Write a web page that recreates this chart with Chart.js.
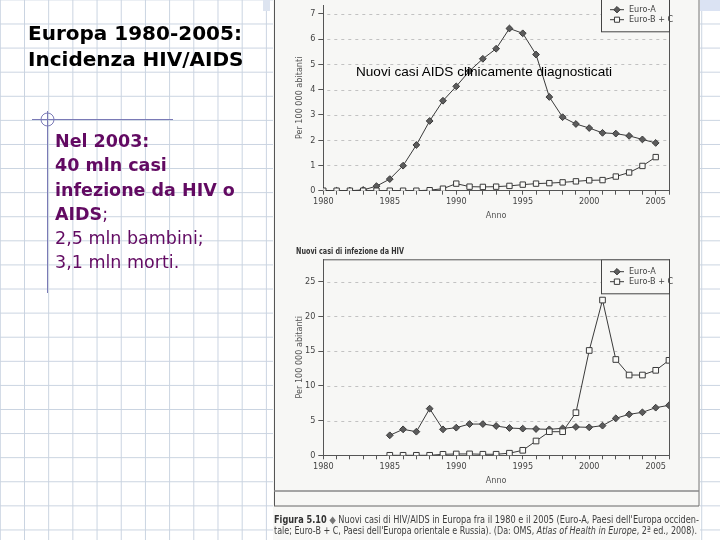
<!DOCTYPE html>
<html><head><meta charset="utf-8">
<script src="https://cdn.jsdelivr.net/npm/chart.js@4.4.1/dist/chart.umd.min.js"></script>
<style>
html,body{margin:0;padding:0;width:720px;height:540px;overflow:hidden;background:#fff;}
#page{position:absolute;left:0;top:0;width:720px;height:540px;background-color:#fff;
 background-image:linear-gradient(to right,#c9d3e0 1px,transparent 1px),linear-gradient(to bottom,#c9d3e0 1px,transparent 1px);
 background-size:24.2px 24.1px;background-position:24px 23.5px;}
#scan{position:absolute;left:273px;top:0;width:427px;height:540px;background:#f7f7f5;}
#band1{position:absolute;left:700px;top:0;width:20px;height:11px;background:#dbe3f3;}
#band2{position:absolute;left:263px;top:0;width:7px;height:11px;background:#dde4f0;}
canvas{position:absolute;}
#c1{left:274px;top:0px;}
#c2{left:274px;top:240px;}
svg{position:absolute;left:0;top:0;}
</style></head>
<body>
<div id="page"></div>
<div id="scan"></div>
<div id="band1"></div><div id="band2"></div>
<canvas id="c1" width="425" height="225"></canvas>
<canvas id="c2" width="425" height="250"></canvas>
<svg width="720" height="540" xmlns="http://www.w3.org/2000/svg">
 <g stroke="#7a7ab6" stroke-width="1" fill="none">
  <line x1="32" y1="119.5" x2="173" y2="119.5"/>
  <line x1="47.5" y1="111" x2="47.5" y2="293"/>
  <circle cx="47.5" cy="119.5" r="6.5"/>
 </g>
 <g font-family="'DejaVu Sans',Verdana,sans-serif" font-weight="bold" font-size="20" fill="#000">
  <text x="28" y="39.5">Europa 1980-2005:</text>
  <text x="28" y="65.5">Incidenza HIV/AIDS</text>
 </g>
 <g font-family="'DejaVu Sans',Verdana,sans-serif" font-size="17.5" fill="#620a62">
  <text x="55" y="147" font-weight="bold">Nel 2003:</text>
  <text x="55" y="171" font-weight="bold">40 mln casi</text>
  <text x="55" y="195.5" font-weight="bold">infezione da HIV o</text>
  <text x="55" y="219.5"><tspan font-weight="bold">AIDS</tspan>;</text>
  <text x="55" y="243.5">2,5 mln bambini;</text>
  <text x="55" y="267.5">3,1 mln morti.</text>
 </g>
 <g stroke-width="1" fill="none">
  <line x1="274.5" y1="0" x2="274.5" y2="506" stroke="#555"/>
  <line x1="699" y1="0" x2="699" y2="506" stroke="#777"/>
  <line x1="274" y1="491" x2="699" y2="491" stroke="#888" stroke-width="1.5"/>
  <line x1="274" y1="506" x2="699" y2="506" stroke="#666"/>
 </g>
 <text x="356" y="76" font-family="'Liberation Sans',Arial,sans-serif" font-size="13.5" fill="#000" textLength="256" lengthAdjust="spacingAndGlyphs">Nuovi casi AIDS clinicamente diagnosticati</text>
 <text x="296" y="254" font-family="'Liberation Sans Narrow','DejaVu Sans Condensed',sans-serif" font-size="9" font-weight="bold" fill="#333" textLength="108" lengthAdjust="spacingAndGlyphs">Nuovi casi di infezione da HIV</text>
 <g font-family="'Liberation Sans Narrow','DejaVu Sans Condensed',sans-serif" font-size="10" fill="#3c3c3c">
  <text x="274" y="522.5" textLength="425" lengthAdjust="spacingAndGlyphs"><tspan font-weight="bold" fill="#333">Figura 5.10</tspan><tspan fill="#777"> ◆ </tspan>Nuovi casi di HIV/AIDS in Europa fra il 1980 e il 2005 (Euro-A, Paesi dell'Europa occiden-</text>
  <text x="274" y="534" textLength="423" lengthAdjust="spacingAndGlyphs">tale; Euro-B + C, Paesi dell'Europa orientale e Russia). (Da: OMS, <tspan font-style="italic">Atlas of Health in Europe</tspan>, 2ª ed., 2008).</text>
 </g>
</svg>
<script>
// ---- data ----
const aidsYears = [1980,1981,1982,1983,1984,1985,1986,1987,1988,1989,1990,1991,1992,1993,1994,1995,1996,1997,1998,1999,2000,2001,2002,2003,2004,2005];
const aidsEuroA = [0,0,0,0.03,0.18,0.46,0.99,1.81,2.76,3.56,4.13,4.74,5.22,5.62,6.42,6.23,5.39,3.71,2.91,2.64,2.48,2.29,2.26,2.17,2.03,1.89];
const aidsEuroBC = [0,0,0,0,0,0,0,0,0.02,0.08,0.28,0.16,0.15,0.16,0.19,0.24,0.28,0.30,0.33,0.37,0.41,0.42,0.56,0.72,0.98,1.33];
const hivYears = [1985,1986,1987,1988,1989,1990,1991,1992,1993,1994,1995,1996,1997,1998,1999,2000,2001,2002,2003,2004,2005,2006];
const hivEuroA = [2.88,3.74,3.40,6.72,3.74,3.98,4.50,4.50,4.22,3.93,3.84,3.79,3.74,3.89,4.08,4.03,4.27,5.33,5.90,6.19,6.86,7.20];
const hivEuroBC = [0,0,0,0,0.14,0.19,0.20,0.15,0.15,0.30,0.72,2.06,3.40,3.40,6.14,15.10,22.36,13.80,11.56,11.56,12.24,13.68];
const seriesLabels = ['Euro-A','Euro-B + C'];
const xTickLabels = [1980,1985,1990,1995,2000,2005];
const aidsYTicks = [0,1,2,3,4,5,6,7];
const hivYTicks = [0,5,10,15,20,25];
const xAxisTitle = 'Anno';
const yAxisTitle = 'Per 100 000 abitanti';

const FONT = "'Liberation Sans Narrow','DejaVu Sans Condensed','Arial Narrow',sans-serif";
const INK = '#3a3a3a';
const PAPER = '#f7f7f5';

function pts(xs, ys){ return xs.map((x,i)=>({x:x, y:ys[i]})); }

function framePlugin(cfg){
  return {
    id:'frameLegend',
    beforeDatasetsDraw(chart){
      const ctx = chart.ctx, a = chart.chartArea, y = chart.scales.y;
      ctx.save();
      ctx.strokeStyle = '#c2c2c2'; ctx.lineWidth = 1; ctx.setLineDash([3,4]);
      y.ticks.forEach(t => {
        if (t.value <= 0) return;
        const py = Math.round(y.getPixelForValue(t.value)) + 0.5;
        ctx.beginPath(); ctx.moveTo(a.left + 4, py); ctx.lineTo(a.right - 2, py); ctx.stroke();
      });
      ctx.setLineDash([]);
      ctx.strokeStyle = '#555';
      ctx.beginPath();
      ctx.moveTo(a.right + 0.5, a.top); ctx.lineTo(a.right + 0.5, a.bottom);
      if (cfg.topFrame) { ctx.moveTo(a.left, a.top + 0.5); ctx.lineTo(a.right + 0.5, a.top + 0.5); }
      ctx.stroke();
      ctx.restore();
    },
    afterDatasetsDraw(chart){
      const ctx = chart.ctx, a = chart.chartArea;
      const L = a.right - 68, T = a.top + cfg.boxTop, B = a.top + cfg.boxBottom;
      ctx.save();
      ctx.fillStyle = PAPER;
      ctx.fillRect(L, T, a.right - L, B - T);
      ctx.strokeStyle = '#444'; ctx.lineWidth = 1;
      ctx.strokeRect(Math.round(L) + 0.5, T + 0.5, a.right - Math.round(L), B - T);
      chart.data.datasets.forEach((ds, i) => {
        const yy = a.top + cfg.itemY[i];
        ctx.strokeStyle = INK; ctx.lineWidth = 1;
        ctx.beginPath(); ctx.moveTo(L + 9, yy); ctx.lineTo(L + 23, yy); ctx.stroke();
        ctx.fillStyle = ds.pointBackgroundColor; ctx.strokeStyle = ds.pointBorderColor;
        Chart.helpers.drawPoint(ctx, {pointStyle: ds.pointStyle, radius: ds.pointRadius - 0.2, rotation: 0, borderWidth: 1}, L + 16, yy);
        ctx.fillStyle = '#444';
        ctx.font = "9px " + FONT;
        ctx.textBaseline = 'middle'; ctx.textAlign = 'left';
        ctx.fillText(ds.label, L + 28, yy);
      });
      ctx.restore();
    }
  };
}

function makeChart(id, years, a, bc, yMax, yTicks, cfg){
  return new Chart(document.getElementById(id), {
    type: 'line',
    data: { datasets: [
      { label: seriesLabels[0], data: pts(years, a), order: 1, borderColor: INK, borderWidth: 1,
        pointStyle: 'rectRot', pointRadius: 3.4, pointBackgroundColor: '#5c5c5c', pointBorderColor: INK, pointBorderWidth: 1 },
      { label: seriesLabels[1], data: pts(years, bc), order: 0, borderColor: INK, borderWidth: 1,
        pointStyle: 'rect', pointRadius: cfg.sq, pointBackgroundColor: '#fafaf8', pointBorderColor: INK, pointBorderWidth: 1 }
    ]},
    options: {
      responsive: false, animation: false,
      layout: { padding: { left: 0, right: 30, top: cfg.padTop, bottom: 0 } },
      plugins: { legend: { display: false }, tooltip: { enabled: false } },
      elements: { line: { tension: 0 } },
      scales: {
        x: {
          type: 'linear', min: 1980, max: 2006,
          afterFit: s => { s.height = cfg.xh; s.paddingLeft = 0; s.paddingRight = 0; },
          ticks: { stepSize: 1, autoSkip: false, maxRotation: 0, includeBounds: false, padding: 2,
                   color: '#444', font: { family: FONT, size: 9 },
                   callback: v => xTickLabels.includes(v) ? String(v) : '' },
          grid: { drawOnChartArea: false, drawTicks: true, tickLength: 4, tickColor: '#555' },
          border: { color: '#555', width: 1 },
          title: { display: true, text: xAxisTitle, color: '#555', font: { family: FONT, size: 9 }, padding: { top: 0, bottom: 3.5 } }
        },
        y: {
          min: 0, max: yMax,
          afterFit: s => { s.width = 49.3; s.paddingTop = 0; s.paddingBottom = 0; },
          afterBuildTicks: s => { s.ticks = yTicks.map(v => ({ value: v })); },
          ticks: { padding: 3, color: '#444', font: { family: FONT, size: 9 } },
          grid: { drawOnChartArea: false, tickLength: 5, tickColor: '#555' },
          border: { color: '#555', width: 1 },
          title: { display: true, text: yAxisTitle, color: '#555', font: { family: FONT, size: 9 }, padding: { top: 20.6, bottom: 0 } }
        }
      }
    },
    plugins: [framePlugin(cfg)]
  });
}

makeChart('c1', aidsYears, aidsEuroA, aidsEuroBC, 7.35, aidsYTicks,
  { padTop: 1, xh: 34.3, topFrame: false, boxTop: -10, boxBottom: 26.3, itemY: [4.7, 14.7], sq: 3.8 });
makeChart('c2', hivYears, hivEuroA, hivEuroBC, 28.23, hivYTicks,
  { padTop: 19.3, xh: 34.7, topFrame: true, boxTop: 0, boxBottom: 34, itemY: [12.4, 22.4], sq: 4.0 });
</script>
</body></html>
